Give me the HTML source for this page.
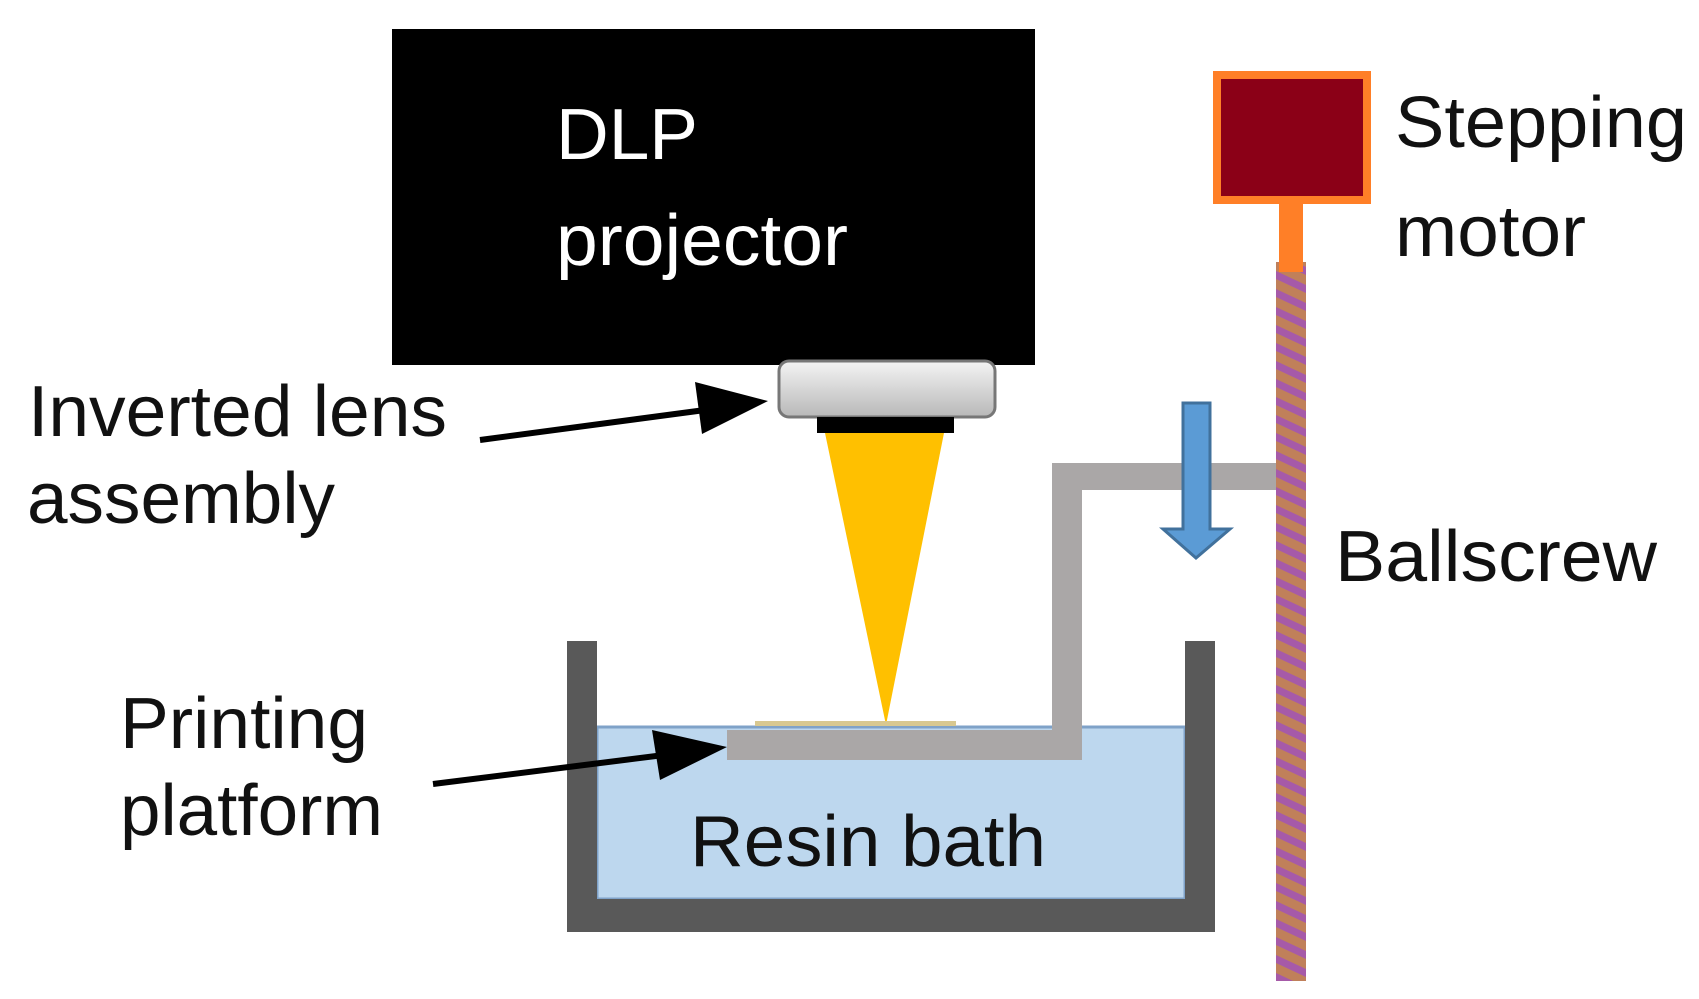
<!DOCTYPE html>
<html><head><meta charset="utf-8"><style>html,body{margin:0;padding:0;background:#fff}svg{display:block}</style></head>
<body>
<svg width="1699" height="999" viewBox="0 0 1699 999" xmlns="http://www.w3.org/2000/svg" font-family="Liberation Sans, Arial, sans-serif">
<defs>
<linearGradient id="lg" x1="0" y1="0" x2="0" y2="1">
<stop offset="0" stop-color="#f4f4f4"/><stop offset="1" stop-color="#b8b8b8"/></linearGradient>
<pattern id="st" width="31" height="18" patternUnits="userSpaceOnUse" patternTransform="skewY(25)">
<rect width="31" height="18" fill="#c0805a"/><rect width="31" height="8" fill="#a65aa8"/></pattern>
</defs>
<rect width="1699" height="999" fill="#fff"/>
<rect x="392" y="29" width="643" height="336" fill="#000"/>
<text x="556" y="159" font-size="72" fill="#fff" textLength="142" lengthAdjust="spacingAndGlyphs">DLP</text>
<text x="556" y="265" font-size="72" fill="#fff" textLength="292" lengthAdjust="spacingAndGlyphs">projector</text>
<rect x="779" y="361" width="216" height="56" rx="10" fill="url(#lg)" stroke="#777" stroke-width="3"/>
<rect x="817" y="417" width="137" height="16" fill="#000"/>
<polygon points="825,433 944,433 886,725" fill="#ffc000"/>
<rect x="597" y="727" width="588" height="172" fill="#bdd7ee" stroke="#7fa2c8" stroke-width="3"/>
<rect x="755" y="721" width="201" height="5" fill="#d8c890"/>
<path d="M567,641 H597 V899 H1185 V641 H1215 V932 H567 Z" fill="#595959"/>
<path d="M727,730 H1052 V463 H1278 V490 H1082 V760 H727 Z" fill="#aaa7a7"/>
<rect x="1276" y="262" width="30" height="719" fill="url(#st)"/>
<rect x="1279" y="200" width="24" height="72" fill="#ff7f27"/>
<rect x="1213" y="71" width="158" height="133" fill="#ff7f27"/>
<rect x="1221" y="79" width="142" height="117" fill="#8b0017"/>
<polygon points="1183,403 1210,403 1210,529 1230,529 1196,558 1163,529 1183,529" fill="#5b9bd5" stroke="#41719c" stroke-width="3"/>
<line x1="480" y1="440" x2="720" y2="408" stroke="#000" stroke-width="6"/>
<polygon points="768,401 695,382 702,434" fill="#000"/>
<line x1="433" y1="784" x2="680" y2="753" stroke="#000" stroke-width="6"/>
<polygon points="727,747 652,730 660,780" fill="#000"/>
<g font-size="72" fill="#111">
<text x="28" y="436" textLength="419" lengthAdjust="spacingAndGlyphs">Inverted lens</text>
<text x="27" y="523" textLength="308" lengthAdjust="spacingAndGlyphs">assembly</text>
<text x="120" y="748" textLength="248" lengthAdjust="spacingAndGlyphs">Printing</text>
<text x="120" y="835" textLength="263" lengthAdjust="spacingAndGlyphs">platform</text>
<text x="690" y="866" textLength="356" lengthAdjust="spacingAndGlyphs">Resin bath</text>
<text x="1395" y="147" textLength="292" lengthAdjust="spacingAndGlyphs">Stepping</text>
<text x="1395" y="256" textLength="191" lengthAdjust="spacingAndGlyphs">motor</text>
<text x="1335" y="581" textLength="322" lengthAdjust="spacingAndGlyphs">Ballscrew</text>
</g>
</svg>
</body></html>
